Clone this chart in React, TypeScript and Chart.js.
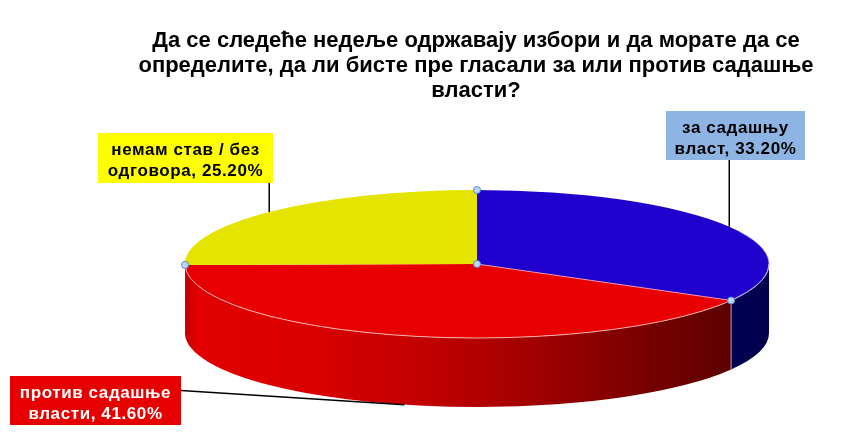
import React, { useEffect, useRef } from 'react';
import { Chart, registerables } from 'chart.js';

Chart.register(...registerables);

// ---- data ----
const titleLines = [
  'Да се следеће недеље одржавају избори и да морате да се',
  'определите, да ли бисте пре гласали за или против садашње',
  'власти?',
];
const categoryLines = [
  ['за садашњу', 'власт'],
  ['против садашње', 'власти'],
  ['немам став / без', 'одговора'],
];
const shares = [33.2, 41.6, 25.2];

// ---- styles ----
const topColors = ['#2000cc', '#e80000', '#e4e400'];
const wallStops: [number, string][][] = [
  [[0, '#000070'], [0.5, '#000066'], [1, '#00004e']],
  [
    [0, '#c00000'],
    [0.02, '#e20000'],
    [0.2, '#da0000'],
    [0.4, '#c40000'],
    [0.6, '#a00000'],
    [0.8, '#760000'],
    [0.95, '#5a0000'],
    [1, '#500000'],
  ],
  [[0, '#b4b400'], [1, '#8a8a00']],
];
const boxStyles = [
  { left: 666, top: 111, right: 805, bottom: 160, bg: '#8db4e2', color: '#000', attach: 'bottom' },
  { left: 10, top: 376, right: 181, bottom: 425, bg: '#e60000', color: '#fff', attach: 'right' },
  { left: 98, top: 133, right: 273, bottom: 183, bg: '#ffff00', color: '#000', attach: 'bottom' },
];
const FONT = '"Liberation Sans", Arial, sans-serif';
const ELLIPSE = { cx: 477, cy: 264, rx: 292, ry: 74, depth: 69 };

function arcProps(arc: any) {
  return arc.getProps(['x', 'y', 'startAngle', 'endAngle', 'outerRadius'], true);
}

function rimPoint(a: number, dy = 0) {
  const { cx, cy, rx, ry } = ELLIPSE;
  return { x: cx + rx * Math.cos(a), y: cy + ry * Math.sin(a) + dy };
}

const pie3d = {
  id: 'pie3d',
  beforeDatasetsDraw(chart: any) {
    const ctx: CanvasRenderingContext2D = chart.ctx;
    const { cx, cy, rx, ry, depth } = ELLIPSE;
    const arcs = chart.getDatasetMeta(0).data;
    // side walls (front half only)
    arcs.forEach((arc: any, i: number) => {
      const { startAngle, endAngle } = arcProps(arc);
      const s = Math.max(startAngle, 0);
      const e = Math.min(endAngle, Math.PI);
      if (e <= s) return;
      const grad = ctx.createLinearGradient(cx - rx, 0, cx + rx, 0);
      wallStops[i].forEach(([o, c]) => grad.addColorStop(o, c));
      ctx.save();
      ctx.beginPath();
      ctx.ellipse(cx, cy, rx, ry, 0, s, e, false);
      ctx.ellipse(cx, cy + depth, rx, ry, 0, e, s, true);
      ctx.closePath();
      ctx.fillStyle = grad;
      ctx.fill();
      ctx.restore();
    });
    // squash the library's circular pie into the top ellipse
    const { x, y, outerRadius } = arcProps(arcs[0]);
    ctx.save();
    ctx.translate(cx, cy);
    ctx.scale(rx / outerRadius, ry / outerRadius);
    ctx.translate(-x, -y);
  },
  afterDatasetsDraw(chart: any) {
    const ctx: CanvasRenderingContext2D = chart.ctx;
    ctx.restore();
    const { cx, cy, rx, ry, depth } = ELLIPSE;
    const arcs = chart.getDatasetMeta(0).data;
    const bounds = arcs.map((a: any) => arcProps(a).startAngle);

    ctx.save();
    ctx.lineWidth = 1;
    // front rim highlight
    ctx.strokeStyle = 'rgba(255,200,200,0.85)';
    ctx.beginPath();
    ctx.ellipse(cx, cy, rx, ry, 0, 0, Math.PI, false);
    ctx.stroke();
    // rim highlight on the blue slice
    const b0 = arcProps(arcs[0]);
    ctx.strokeStyle = 'rgba(170,170,255,0.8)';
    ctx.beginPath();
    ctx.ellipse(cx, cy, rx, ry, 0, -0.45, b0.endAngle, false);
    ctx.stroke();
    // radial seam between blue and red
    const p1 = rimPoint(b0.endAngle);
    ctx.strokeStyle = 'rgba(255,170,190,0.8)';
    ctx.beginPath();
    ctx.moveTo(cx, cy);
    ctx.lineTo(p1.x, p1.y);
    ctx.stroke();
    // vertical seam on the wall
    ctx.strokeStyle = 'rgba(190,190,220,0.8)';
    ctx.beginPath();
    ctx.moveTo(p1.x, p1.y);
    ctx.lineTo(p1.x, p1.y + depth);
    ctx.stroke();

    // selection handles
    const pts = bounds.map((a: number) => rimPoint(a));
    pts.push({ x: cx, y: cy });
    pts.forEach((p: any) => {
      ctx.beginPath();
      ctx.arc(p.x, p.y, 3.5, 0, Math.PI * 2);
      ctx.fillStyle = '#b9d9f7';
      ctx.fill();
      ctx.strokeStyle = '#5b8ac6';
      ctx.stroke();
    });
    ctx.restore();
  },
  afterDraw(chart: any) {
    const ctx: CanvasRenderingContext2D = chart.ctx;
    const { depth } = ELLIPSE;
    const arcs = chart.getDatasetMeta(0).data;
    const values: number[] = chart.data.datasets[0].data;
    ctx.save();
    arcs.forEach((arc: any, i: number) => {
      const { startAngle, endAngle } = arcProps(arc);
      const m = (startAngle + endAngle) / 2;
      const front = Math.sin(m) > 0;
      const end = rimPoint(m, front ? depth : 0);
      const box = boxStyles[i];
      // leader line
      ctx.strokeStyle = '#000';
      ctx.lineWidth = 1.5;
      ctx.beginPath();
      if (box.attach === 'bottom') ctx.moveTo(end.x, box.bottom);
      else ctx.moveTo(box.right, (box.top + box.bottom) / 2 - 10);
      ctx.lineTo(end.x, end.y);
      ctx.stroke();
      // box
      ctx.fillStyle = box.bg;
      ctx.fillRect(box.left, box.top, box.right - box.left, box.bottom - box.top);
      // text
      const lines = categoryLines[i].slice();
      lines[lines.length - 1] += ', ' + values[i].toFixed(2) + '%';
      ctx.fillStyle = box.color;
      ctx.font = 'bold 17px ' + FONT;
      (ctx as any).letterSpacing = '0.6px';
      ctx.textAlign = 'center';
      ctx.textBaseline = 'alphabetic';
      const mx = (box.left + box.right) / 2;
      lines.forEach((t, k) => ctx.fillText(t, mx, box.top + 21.5 + k * 21));
      (ctx as any).letterSpacing = '0px';
    });
    ctx.restore();
  },
};

export default function App() {
  const ref = useRef<HTMLCanvasElement | null>(null);
  useEffect(() => {
    if (!ref.current) return;
    const chart = new Chart(ref.current, {
      type: 'pie',
      data: {
        labels: categoryLines.map((l) => l.join(' ')),
        datasets: [
          {
            data: shares,
            backgroundColor: topColors,
            borderWidth: 0,
            clip: false as any,
          },
        ],
      },
      options: {
        responsive: false,
        animation: false,
        events: [],
        rotation: 0,
        layout: { padding: { left: 103, right: 0, top: 0, bottom: 0 } },
        plugins: {
          legend: { display: false },
          tooltip: { enabled: false },
          title: {
            display: true,
            text: titleLines,
            color: '#000',
            font: { family: FONT, size: 22, weight: 'bold', lineHeight: 25 / 22 },
            padding: { top: 28, bottom: 0 },
          },
        },
      },
      plugins: [pie3d],
    });
    return () => chart.destroy();
  }, []);
  return (
    <div style={{ position: 'fixed', left: 0, top: 0, width: 849, height: 441, background: '#fff' }}>
      <canvas ref={ref} width={849} height={441} style={{ display: 'block' }} />
    </div>
  );
}
